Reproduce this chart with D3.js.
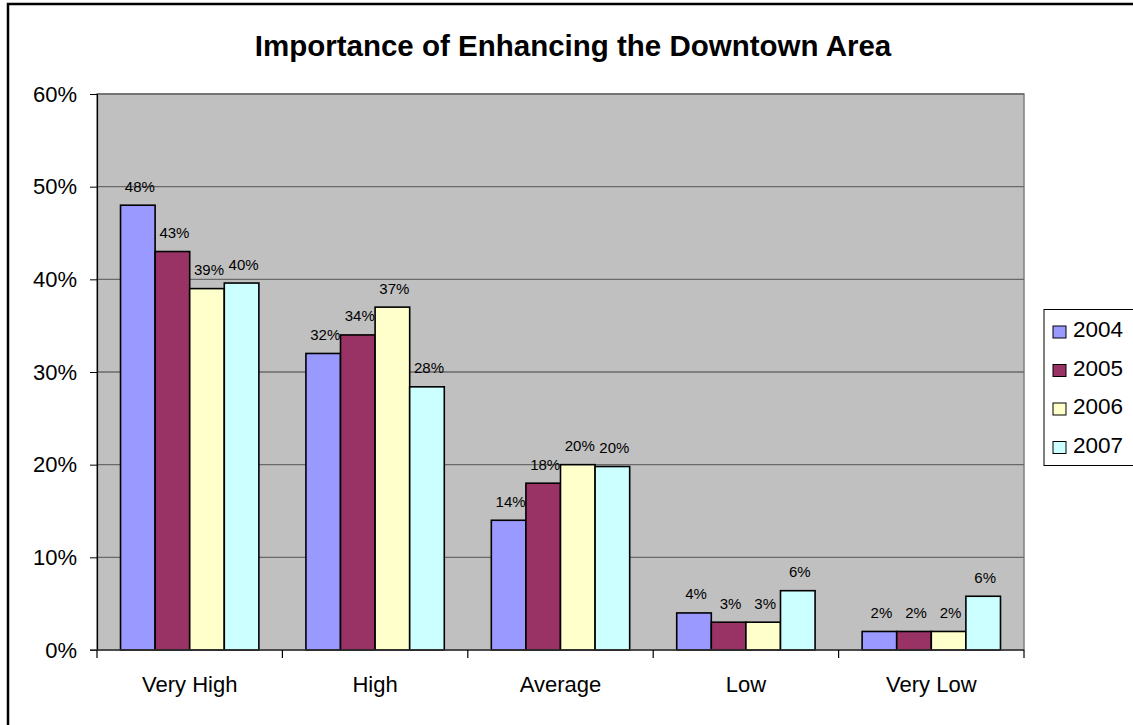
<!DOCTYPE html>
<html>
<head>
<meta charset="utf-8">
<script src="https://cdn.jsdelivr.net/npm/d3@7"></script>
<style>
  html, body { margin: 0; padding: 0; background: #fff; }
  svg { display: block; font-family: Arial, "Liberation Sans", sans-serif; }
</style>
</head>
<body>
<svg id="chart" width="1133" height="725"></svg>
<script>
const categories = ["Very High", "High", "Average", "Low", "Very Low"];
const seriesNames = ["2004", "2005", "2006", "2007"];
const values2004 = [48, 32, 14, 4, 2];
const values2005 = [43, 34, 18, 3, 2];
const values2006 = [39, 37, 20, 3, 2];
const values2007 = [39.6, 28.4, 19.8, 6.4, 5.8];
const yTicks = [0, 10, 20, 30, 40, 50, 60];
const colors = ["#9999FF", "#993366", "#FFFFCC", "#CCFFFF"];
const titleText = "Importance of Enhancing the Downtown Area";

const seriesValues = [values2004, values2005, values2006, values2007];

const svg = d3.select("#chart");

// outer border
svg.append("rect")
  .attr("x", 8).attr("y", 4)
  .attr("width", 1200).attr("height", 800)
  .attr("fill", "none").attr("stroke", "#000").attr("stroke-width", 2.5);

const plot = { left: 97, right: 1024, top: 94, bottom: 650 };

const x0 = d3.scaleBand().domain(categories).range([plot.left, plot.right]).padding(0);
const x1 = d3.scaleBand().domain(seriesNames).range([0, x0.bandwidth()]).paddingInner(0).paddingOuter(0.68);
const y = d3.scaleLinear().domain([0, 60]).range([plot.bottom, plot.top]);

// plot background
svg.append("rect")
  .attr("x", plot.left).attr("y", plot.top)
  .attr("width", plot.right - plot.left).attr("height", plot.bottom - plot.top)
  .attr("fill", "#C0C0C0").attr("stroke", "#808080").attr("stroke-width", 1.5);

// gridlines
svg.append("g").selectAll("line")
  .data(yTicks.filter(t => t > 0))
  .join("line")
  .attr("x1", plot.left).attr("x2", plot.right)
  .attr("y1", d => y(d)).attr("y2", d => y(d))
  .attr("stroke", "#6a6a6a").attr("stroke-width", 1.3);

// y axis
const yAxis = d3.axisLeft(y).tickValues(yTicks).tickFormat(d => d + "%").tickSize(7).tickPadding(13);
const gy = svg.append("g").attr("transform", `translate(${plot.left},0)`).call(yAxis);
gy.select(".domain").attr("stroke", "#000").attr("stroke-width", 1.2);
gy.selectAll(".tick line").attr("stroke", "#000");
gy.selectAll(".tick text").attr("font-size", 22).attr("fill", "#000")
  .attr("font-family", "Arial, 'Liberation Sans', sans-serif");

// bars
const groups = svg.append("g").selectAll("g")
  .data(categories)
  .join("g")
  .attr("transform", c => `translate(${x0(c)},0)`);

groups.selectAll("rect")
  .data((c, i) => seriesNames.map((s, j) => ({ s, j, v: seriesValues[j][i] })))
  .join("rect")
  .attr("x", d => x1(d.s))
  .attr("y", d => y(d.v))
  .attr("width", x1.bandwidth())
  .attr("height", d => y(0) - y(d.v))
  .attr("fill", d => colors[d.j])
  .attr("stroke", "#000").attr("stroke-width", 1.6);

groups.selectAll("text")
  .data((c, i) => seriesNames.map((s, j) => ({ s, j, v: seriesValues[j][i] })))
  .join("text")
  .attr("x", d => x1(d.s) + x1.bandwidth() / 2 + 2)
  .attr("y", d => y(d.v) - 13.5)
  .attr("text-anchor", "middle")
  .attr("font-size", 15)
  .attr("fill", "#000")
  .text(d => Math.round(d.v) + "%");

// x axis line
svg.append("line")
  .attr("x1", plot.left - 7).attr("x2", plot.right)
  .attr("y1", plot.bottom).attr("y2", plot.bottom)
  .attr("stroke", "#333").attr("stroke-width", 1.6);

const xAxis = d3.axisBottom(x0).tickSize(0).tickPadding(0);
const gx = svg.append("g").attr("transform", `translate(0,${plot.bottom})`).call(xAxis);
gx.select(".domain").remove();
gx.selectAll(".tick text").attr("font-size", 22).attr("fill", "#000")
  .attr("y", 42).attr("dy", 0)
  .attr("font-family", "Arial, 'Liberation Sans', sans-serif");

// category boundary ticks
const boundaries = categories.map(c => x0(c)).concat([x0(categories[categories.length - 1]) + x0.bandwidth()]);
svg.append("g").selectAll("line")
  .data(boundaries)
  .join("line")
  .attr("x1", d => d).attr("x2", d => d)
  .attr("y1", plot.bottom).attr("y2", plot.bottom + 8)
  .attr("stroke", "#000").attr("stroke-width", 1.2);

// title
svg.append("text")
  .attr("x", 573).attr("y", 56)
  .attr("text-anchor", "middle")
  .attr("font-size", 29.5).attr("font-weight", "bold")
  .attr("fill", "#000")
  .text(titleText);

// legend
const legend = svg.append("g");
legend.append("rect")
  .attr("x", 1044).attr("y", 309.5)
  .attr("width", 92).attr("height", 156)
  .attr("fill", "#fff").attr("stroke", "#000").attr("stroke-width", 1);

const items = legend.selectAll("g.item")
  .data(seriesNames)
  .join("g")
  .attr("class", "item")
  .attr("transform", (d, i) => `translate(0,${337 + i * 38.5})`);

items.append("rect")
  .attr("x", 1053).attr("y", -11)
  .attr("width", 13).attr("height", 12)
  .attr("fill", (d, i) => colors[i])
  .attr("stroke", "#000").attr("stroke-width", 1);

items.append("text")
  .attr("x", 1073).attr("y", 0)
  .attr("font-size", 22.5).attr("fill", "#000")
  .text(d => d);
</script>
</body>
</html>
